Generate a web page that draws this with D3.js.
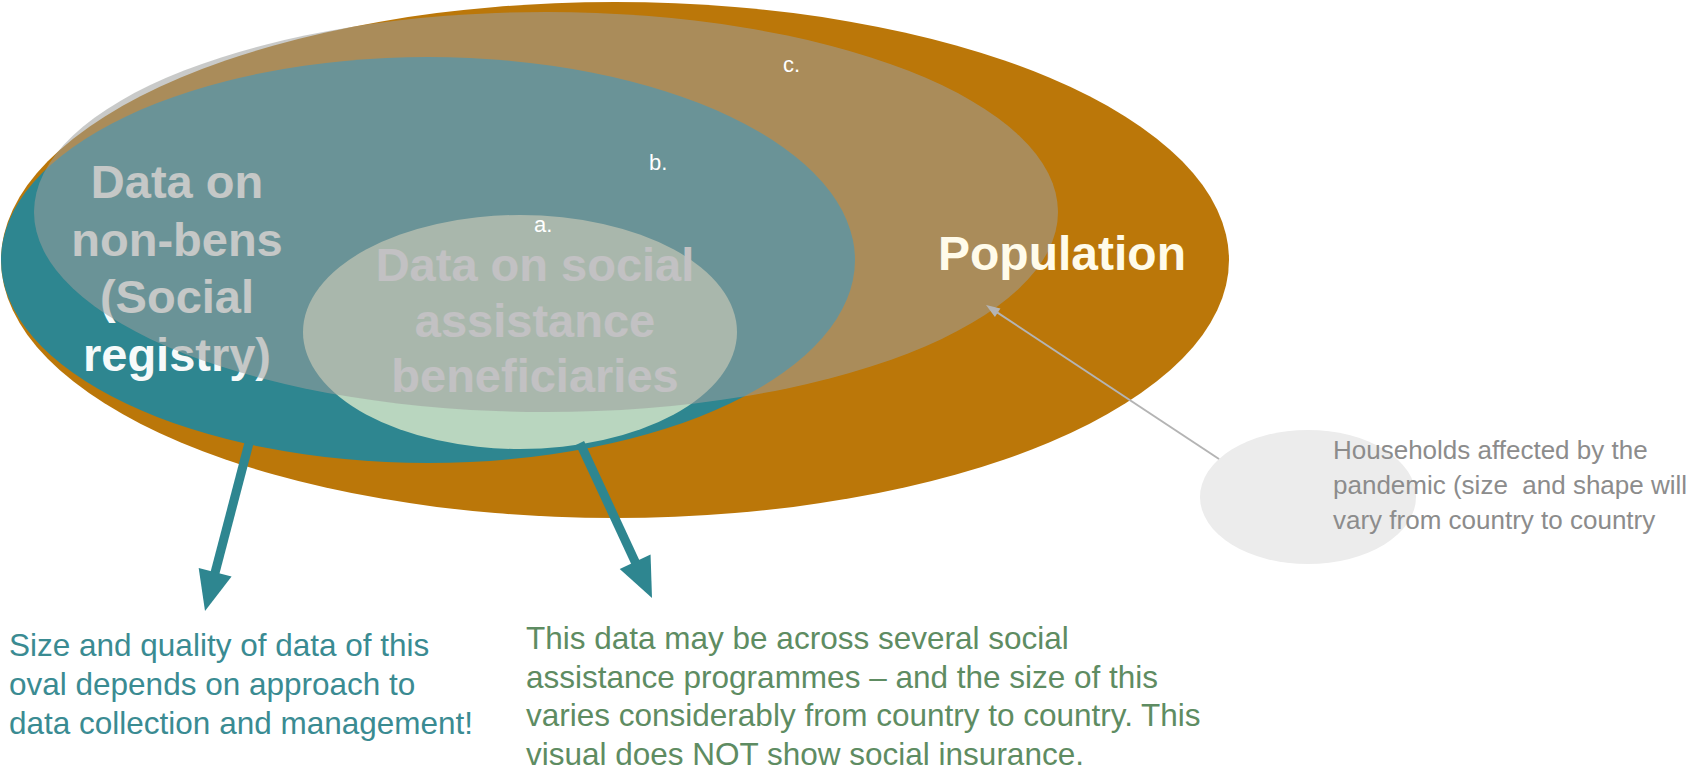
<!DOCTYPE html>
<html>
<head>
<meta charset="utf-8">
<script src="https://cdn.jsdelivr.net/npm/d3@7"></script>
<style>
  body { margin: 0; background: #fff; }
  svg { display: block; }
  text { font-family: "Liberation Sans", Arial, sans-serif; white-space: pre; }
</style>
</head>
<body>
<div id="chart"></div>
<script>
// labels of the ovals, from the outside in
var ovalNames = ['Population', 'Households affected', 'Data on non-bens', 'Data on social assistance beneficiaries'];
var ovalLetters = ['c.', 'b.', 'a.'];
var nonBensLines = ['Data on', 'non-bens', '(Social', 'registry)'];
var beneficiaryLines = ['Data on social', 'assistance', 'beneficiaries'];
var bubbleLines = ['Households affected by the', 'pandemic (size  and shape will', 'vary from country to country'];
var registryNote = ['Size and quality of data of this', 'oval depends on approach to', 'data collection and management!'];
var assistanceNote = ['This data may be across several social', 'assistance programmes \u2013 and the size of this',
                      'varies considerably from country to country. This', 'visual does NOT show social insurance.'];

var width = 1695, height = 770;

var svg = d3.select('#chart').append('svg')
    .attr('width', width)
    .attr('height', height);

// layout of the diagram (pixels)
var layout = {
  population: { cx: 615, cy: 260, rx: 614, ry: 258, fill: '#bb7709' },
  nonBens:    { cx: 428, cy: 260, rx: 427, ry: 203, fill: '#2e8690' },
  bens:       { cx: 520, cy: 332, rx: 217, ry: 117, fill: '#b9d6bf' },
  affected:   { cx: 546, cy: 212, rx: 512, ry: 200, fill: 'rgb(156,158,156)', opacity: 0.55 },
  bubble:     { cx: 1308, cy: 497, rx: 108, ry: 67, fill: '#ececec' }
};

function oval(o) {
  return svg.append('ellipse')
      .attr('cx', o.cx).attr('cy', o.cy)
      .attr('rx', o.rx).attr('ry', o.ry)
      .attr('fill', o.fill)
      .attr('fill-opacity', o.opacity == null ? 1 : o.opacity);
}

function lines(arr, x, y0, step, opts) {
  var t = svg.append('g').selectAll('text')
      .data(arr)
      .enter().append('text')
      .attr('x', x)
      .attr('y', function (d, i) { return y0 + i * step; })
      .attr('text-anchor', opts.anchor || 'start')
      .attr('font-size', opts.size)
      .attr('font-weight', opts.weight || 'normal')
      .attr('fill', opts.color)
      .text(function (d) { return d; });
  return t;
}

function arrow(x1, y1, x2, y2, w, headLen, headW, color) {
  var dx = x2 - x1, dy = y2 - y1;
  var len = Math.sqrt(dx * dx + dy * dy);
  var ux = dx / len, uy = dy / len;
  var bx = x2 - ux * headLen, by = y2 - uy * headLen;
  svg.append('line')
      .attr('x1', x1).attr('y1', y1)
      .attr('x2', bx + ux * 2).attr('y2', by + uy * 2)
      .attr('stroke', color)
      .attr('stroke-width', w);
  var pts = [[x2, y2], [bx - uy * headW, by + ux * headW], [bx + uy * headW, by - ux * headW]];
  svg.append('path')
      .attr('d', d3.line()(pts) + 'Z')
      .attr('fill', color);
}

oval(layout.population);
oval(layout.nonBens);
oval(layout.bens);

// the big labels sit under the grey overlay
lines(nonBensLines, 177, 198, 57.5, { anchor: 'middle', size: 47, weight: 'bold', color: '#f6fafa' });
lines(beneficiaryLines, 535, 281, 55.5, { anchor: 'middle', size: 47, weight: 'bold', color: '#f0ecf2' });

oval(layout.affected);

svg.append('text').attr('x', 783).attr('y', 72).attr('font-size', 22).attr('fill', '#fff').text(ovalLetters[0]);
svg.append('text').attr('x', 649).attr('y', 170).attr('font-size', 22).attr('fill', '#fff').text(ovalLetters[1]);
svg.append('text').attr('x', 534).attr('y', 232).attr('font-size', 22).attr('fill', '#fff').text(ovalLetters[2]);

svg.append('text')
    .attr('x', 1062).attr('y', 270)
    .attr('text-anchor', 'middle')
    .attr('font-size', 48)
    .attr('font-weight', 'bold')
    .attr('fill', '#fffbea')
    .text(ovalNames[0]);

// arrows to the notes
arrow(249, 443, 205, 611, 9, 40, 17, '#2e8690');
arrow(580, 443, 652, 598, 9, 40, 17, '#2e8690');

oval(layout.bubble);
arrow(1219, 459, 986, 305, 2, 14, 5, '#b4b4b4');

lines(bubbleLines, 1333, 459, 35, { size: 26, color: '#8c8c8c' });
lines(registryNote, 9, 656, 39, { size: 31.5, color: '#3a8b92' });
lines(assistanceNote, 526, 649, 38.5, { size: 31.5, color: '#5e8c62' });
</script>
</body>
</html>
